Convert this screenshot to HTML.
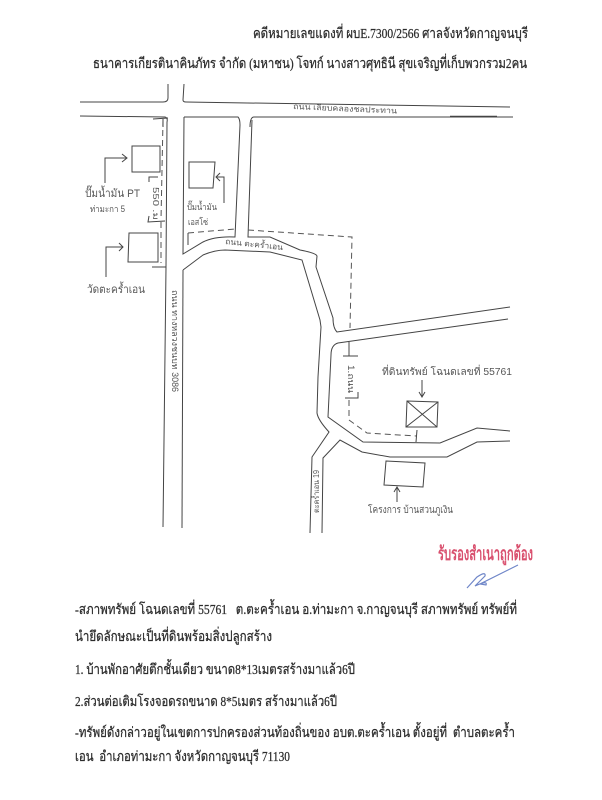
<!DOCTYPE html>
<html lang="th">
<head>
<meta charset="utf-8">
<style>
html,body{margin:0;padding:0;background:#fff;width:602px;height:800px;overflow:hidden}
svg{display:block}
.t{font-family:"Liberation Serif","Noto Serif CJK SC",serif;font-size:14px;fill:#2b2b2b;stroke:#2b2b2b;stroke-width:.25}
.h{font-family:"Liberation Sans","WenQuanYi Zen Hei",sans-serif;font-size:9px;fill:#555}
.l{fill:none;stroke:#444;stroke-width:1}
.d{fill:none;stroke:#555;stroke-width:1;stroke-dasharray:6 4}
</style>
</head>
<body>
<svg width="602" height="800" viewBox="0 0 602 800" xmlns="http://www.w3.org/2000/svg">
<rect width="602" height="800" fill="#fff"/>

<!-- header -->
<text class="t" x="253" y="38" textLength="275" lengthAdjust="spacingAndGlyphs">คดีหมายเลขแดงที่ ผบE.7300/2566 ศาลจังหวัดกาญจนบุรี</text>
<text class="t" x="93" y="68" textLength="434" lengthAdjust="spacingAndGlyphs">ธนาคารเกียรตินาคินภัทร จำกัด (มหาชน) โจทก์ นางสาวศุทธินี สุขเจริญที่เก็บพวกรวม2คน</text>

<!-- roads -->
<g class="l">
<path d="M80 102 L163 102 Q168 102 168 98 L168 84"/>
<path d="M184 84 L183 100 Q183 102 186 102 L510 107"/>
<path d="M80 116 L165 117 Q168 118 167 122 L166 267 L163 527"/>
<path d="M184 117 L238 117 Q240 119 240 125 L235 237 Q215 236 203 242 L183 254 L184 117"/>
<path d="M250 127 Q250 117 254 117 L513 117"/>
<path d="M450 116.5 L497 116.5" stroke-width="1.6"/>
<path d="M252 120 L248 237 L270 237 L300 250 Q316 253 317 256 L316 267 L333 318 Q333 328 337 332 L510 307"/>
<path d="M183 270 L203 255 Q215 250 225 250 L270 252 L302 260 L320 320 L321 327 L318 377 L317 413 Q318 420 329 432 L312 457 L310 533"/>
<path d="M183 270 L182 528"/>
<path d="M508 319 L338 343 Q331 345 331 355 L328 417 L363 442 L440 443 L477 428 L510 431"/>
<path d="M322 533 L323 458 L340 440 L362 452 L390 457 L447 457 L477 442 L510 441"/>
</g>

<!-- dashed boundaries -->
<g class="d">
<path d="M163 120 L161 220"/>
<path d="M161 222 L161 263"/>
<path d="M188 233 L235 229"/>
<path d="M248 230 L352 237 L350 328"/>
<path d="M349 400 L349 420 L367 433 L416 436"/>
</g>

<!-- ticks -->
<g class="l">
<path d="M153 119 L168 118 M163 119 L163 127"/>
<path d="M158 177 L149 177 L149 182"/>
<path d="M149 216 L148 222 L165 221"/>
<path d="M152 267 L166 267"/>
<path d="M188 233 L188 245"/>
<path d="M349 342 L349 356 M343 356 L358 356"/>
<path d="M345 398 L358 398 L358 392"/>
<path d="M417 430 L416 442"/>
</g>

<!-- buildings -->
<g class="l">
<path d="M132 146 L160 146 L160 172 L132 172 Z"/>
<path d="M129 233 L158 233 L158 262 L128 262 Z"/>
<path d="M189 162 L215 162 L213 188 L189 188 Z"/>
<path d="M407 401 L438 402 L437 427 L406 427 Z M407 401 L437 427 M438 402 L406 427"/>
<path d="M386 461 L425 463 L423 487 L384 485 Z"/>
</g>

<!-- arrows -->
<g class="l">
<path d="M105 183 L105 158 L127 158 M122 154 L127 158 L122 162"/>
<path d="M106 277 L106 247 L123 247 M119 243 L123 247 L119 251"/>
<path d="M224 203 L224 177 L216 177 M220 173 L216 177 L220 181"/>
<path d="M422 380 L422 397 M419 392 L422 397 L425 392"/>
<path d="M397 502 L397 487 M394 492 L397 487 L400 492"/>
</g>

<!-- diagram labels -->
<text class="h" x="85" y="197" style="font-size:11px" textLength="55" lengthAdjust="spacingAndGlyphs">ปั๊มน้ำมัน PT</text>
<text class="h" x="90" y="212" textLength="35" lengthAdjust="spacingAndGlyphs">ท่ามะกา 5</text>
<text class="h" x="87" y="293" style="font-size:11px" textLength="58" lengthAdjust="spacingAndGlyphs">วัดตะคร้ำเอน</text>
<text class="h" x="187" y="210" textLength="30" lengthAdjust="spacingAndGlyphs">ปั๊มน้ำมัน</text>
<text class="h" x="188" y="225" textLength="20" lengthAdjust="spacingAndGlyphs">เอสโซ่</text>
<text class="h" transform="translate(293,109) rotate(2.5)" style="font-size:8px" textLength="104" lengthAdjust="spacingAndGlyphs">ถนน เลียบคลองชลประทาน</text>
<text class="h" transform="translate(225,244) rotate(6)" style="font-size:8px" textLength="58" lengthAdjust="spacingAndGlyphs">ถนน ตะคร้ำเอน</text>
<text class="h" transform="translate(172,290) rotate(90)" style="font-size:9px" textLength="102" lengthAdjust="spacingAndGlyphs">ถนน ทางหลวงชนบท 3086</text>
<text class="h" transform="translate(153,187) rotate(90)" style="font-size:8px" textLength="33" lengthAdjust="spacingAndGlyphs">550 .ม</text>
<text class="h" transform="translate(348,365) rotate(90)" textLength="28" lengthAdjust="spacingAndGlyphs">1.ถนน</text>
<text class="h" transform="translate(319,513) rotate(-90)" style="font-size:8px" textLength="43" lengthAdjust="spacingAndGlyphs">ตะคร้ำเอน 19</text>
<text class="h" x="382" y="375" style="font-size:10px" textLength="130" lengthAdjust="spacingAndGlyphs">ที่ดินทรัพย์ โฉนดเลขที่ 55761</text>
<text class="h" x="368" y="513" style="font-size:10px" textLength="85" lengthAdjust="spacingAndGlyphs">โครงการ บ้านสวนภูเงิน</text>

<!-- stamp -->
<text x="438" y="560" font-family="'Liberation Sans','WenQuanYi Zen Hei',sans-serif" font-size="19" font-weight="bold" fill="#d9506e" textLength="95" lengthAdjust="spacingAndGlyphs">รับรองสำเนาถูกต้อง</text>
<path d="M467 588 L477 577 Q486 571 485 576 L475 586 Q488 580 486 585 L480 584 L518 565" fill="none" stroke="#6f86c8" stroke-width="1.2"/>

<!-- body -->
<text class="t" x="75" y="614" textLength="442" lengthAdjust="spacingAndGlyphs">-สภาพทรัพย์ โฉนดเลขที่ 55761 &#160; ต.ตะคร้ำเอน อ.ท่ามะกา จ.กาญจนบุรี สภาพทรัพย์ ทรัพย์ที่</text>
<text class="t" x="75" y="641" textLength="197" lengthAdjust="spacingAndGlyphs">นำยึดลักษณะเป็นที่ดินพร้อมสิ่งปลูกสร้าง</text>
<text class="t" x="75" y="674" textLength="280" lengthAdjust="spacingAndGlyphs">1. บ้านพักอาศัยตึกชั้นเดียว ขนาด8*13เมตรสร้างมาแล้ว6ปี</text>
<text class="t" x="75" y="706" textLength="262" lengthAdjust="spacingAndGlyphs">2.ส่วนต่อเติมโรงจอดรถขนาด 8*5เมตร สร้างมาแล้ว6ปี</text>
<text class="t" x="75" y="737" textLength="440" lengthAdjust="spacingAndGlyphs">-ทรัพย์ดังกล่าวอยู่ในเขตการปกครองส่วนท้องถิ่นของ อบต.ตะคร้ำเอน ตั้งอยู่ที่ &#160;ตำบลตะคร้ำ</text>
<text class="t" x="75" y="761" textLength="215" lengthAdjust="spacingAndGlyphs">เอน &#160;อำเภอท่ามะกา จังหวัดกาญจนบุรี 71130</text>
</svg>
</body>
</html>
